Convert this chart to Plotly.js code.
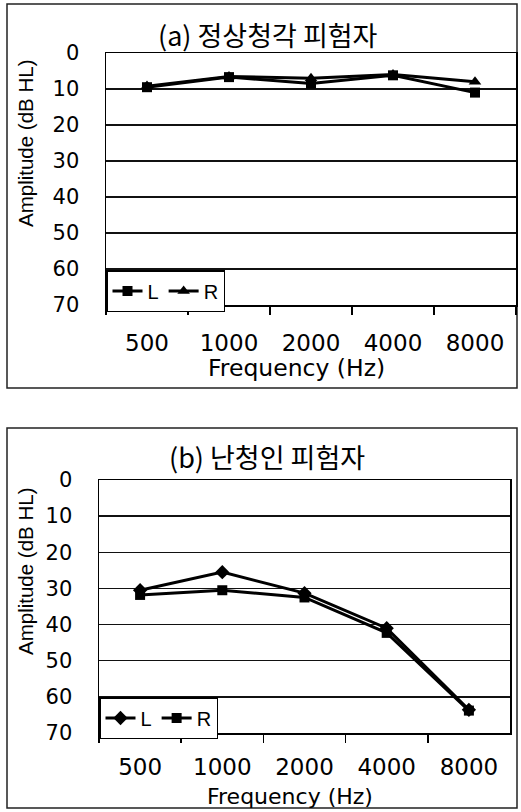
<!DOCTYPE html>
<html>
<head>
<meta charset="utf-8">
<script src="https://cdn.plot.ly/plotly-3.0.1.min.js"></script>
<style>
html,body{margin:0;padding:0;background:#fff;}
#chart{width:521px;height:812px;}
</style>
</head>
<body>
<div id="chart"></div>
<script>
// ---- data ----
const frequencies = ['500', '1000', '2000', '4000', '8000'];
const normalLeft = [9.5, 6.7, 8.5, 6.2, 11.0];
const normalRight = [9.2, 6.5, 7.0, 6.0, 8.0];
const lossLeft = [30.5, 25.5, 31.3, 41.0, 63.6];
const lossRight = [31.8, 30.5, 32.5, 42.3, 63.8];
const yTicks = [0, 10, 20, 30, 40, 50, 60, 70];
const titleA = '(a) 정상청각 피험자';
const titleB = '(b) 난청인 피험자';
const yTitle = 'Amplitude (dB HL)';
const xTitle = 'Frequency (Hz)';

const W = 521, H = 812;
const px = v => v / W;
const py = v => 1 - v / H;

const baseFont = 'DejaVu Sans, Arial, sans-serif';
const legFont = 'Liberation Sans, Arial, sans-serif';
const krFont = 'Noto Sans CJK KR, sans-serif';

function line(x, y, name, symbol, xa, ya, legend, msize) {
  return {
    x: x, y: y, name: name, type: 'scatter', mode: 'lines+markers',
    xaxis: xa, yaxis: ya, legend: legend,
    line: {color: '#000', width: 3},
    marker: {symbol: symbol, size: msize, color: '#000'}
  };
}

const data = [
  line(frequencies, normalLeft, 'L', 'square', 'x', 'y', 'legend', 10),
  line(frequencies, normalRight, 'R', 'triangle-up', 'x', 'y', 'legend', 11),
  line(frequencies, lossLeft, 'L', 'diamond', 'x2', 'y2', 'legend2', 11),
  line(frequencies, lossRight, 'R', 'square', 'x2', 'y2', 'legend2', 10)
];

function xaxis(domain, anchor, standoff) {
  return {
    domain: domain, anchor: anchor, type: 'category',
    categoryorder: 'array', categoryarray: frequencies,
    range: [-0.5, frequencies.length - 0.5], autorange: false,
    tickson: 'boundaries', ticks: 'outside', ticklen: 8, tickwidth: 1.5, tickcolor: '#000',
    showgrid: false, zeroline: false,
    showline: true, linecolor: '#000', linewidth: 1.5, mirror: true,
    tickfont: {family: baseFont, size: 23, color: '#000'},
    ticklabelstandoff: standoff,
    fixedrange: true
  };
}
function yaxis(domain, anchor) {
  return {
    domain: domain, anchor: anchor,
    range: [70, 0], tickvals: yTicks, ticks: '',
    showgrid: true, gridcolor: '#111', gridwidth: 1.5,
    zeroline: false,
    showline: true, linecolor: '#000', linewidth: 1.5, mirror: true,
    tickfont: {family: baseFont, size: 21, color: '#000'},
    ticklabelstandoff: 21,
    fixedrange: true
  };
}

const layout = {
  width: W, height: H, autosize: false,
  margin: {l: 0, r: 0, t: 0, b: 0, pad: 0},
  paper_bgcolor: '#fff', plot_bgcolor: '#fff',
  showlegend: true,
  xaxis: xaxis([px(106), px(516)], 'y', 17),
  yaxis: yaxis([py(305), py(53)], 'x'),
  xaxis2: xaxis([px(99), px(510)], 'y2', 13),
  yaxis2: yaxis([py(733), py(480)], 'x2'),
  legend: {
    x: px(106), y: py(270), xanchor: 'left', yanchor: 'top',
    orientation: 'h', bgcolor: '#fff', bordercolor: '#000', borderwidth: 1.5,
    font: {family: legFont, size: 20, color: '#000'},
    itemwidth: 30, tracegroupgap: 0
  },
  legend2: {
    x: px(99), y: py(697), xanchor: 'left', yanchor: 'top',
    orientation: 'h', bgcolor: '#fff', bordercolor: '#000', borderwidth: 1.5,
    font: {family: legFont, size: 20, color: '#000'},
    itemwidth: 30, tracegroupgap: 0
  },
  shapes: [
    {type: 'rect', xref: 'paper', yref: 'paper', x0: px(7), x1: px(517), y0: py(388), y1: py(4),
     line: {color: '#222', width: 1.5}, layer: 'below'},
    {type: 'rect', xref: 'paper', yref: 'paper', x0: px(7), x1: px(517), y0: py(808), y1: py(428),
     line: {color: '#222', width: 1.5}, layer: 'below'}
  ],
  annotations: [
    {text: titleA, xref: 'paper', yref: 'paper', x: px(268), y: py(34), xanchor: 'center', yanchor: 'middle',
     showarrow: false, font: {family: krFont, size: 27, color: '#000'}},
    {text: titleB, xref: 'paper', yref: 'paper', x: px(267), y: py(456), xanchor: 'center', yanchor: 'middle',
     showarrow: false, font: {family: krFont, size: 27, color: '#000'}},
    {text: yTitle, xref: 'paper', yref: 'paper', x: px(25), y: py(144), xanchor: 'center', yanchor: 'middle',
     textangle: -90, showarrow: false, font: {family: legFont, size: 20.5, color: '#000'}},
    {text: yTitle, xref: 'paper', yref: 'paper', x: px(25), y: py(572), xanchor: 'center', yanchor: 'middle',
     textangle: -90, showarrow: false, font: {family: legFont, size: 20.5, color: '#000'}},
    {text: xTitle, xref: 'paper', yref: 'paper', x: px(296), y: py(368), xanchor: 'center', yanchor: 'middle',
     showarrow: false, font: {family: baseFont, size: 23.5, color: '#000'}},
    {text: xTitle, xref: 'paper', yref: 'paper', x: px(290), y: py(796), xanchor: 'center', yanchor: 'middle',
     showarrow: false, font: {family: baseFont, size: 22, color: '#000'}}
  ]
};

Plotly.newPlot('chart', data, layout, {staticPlot: true, displayModeBar: false});
</script>
</body>
</html>
